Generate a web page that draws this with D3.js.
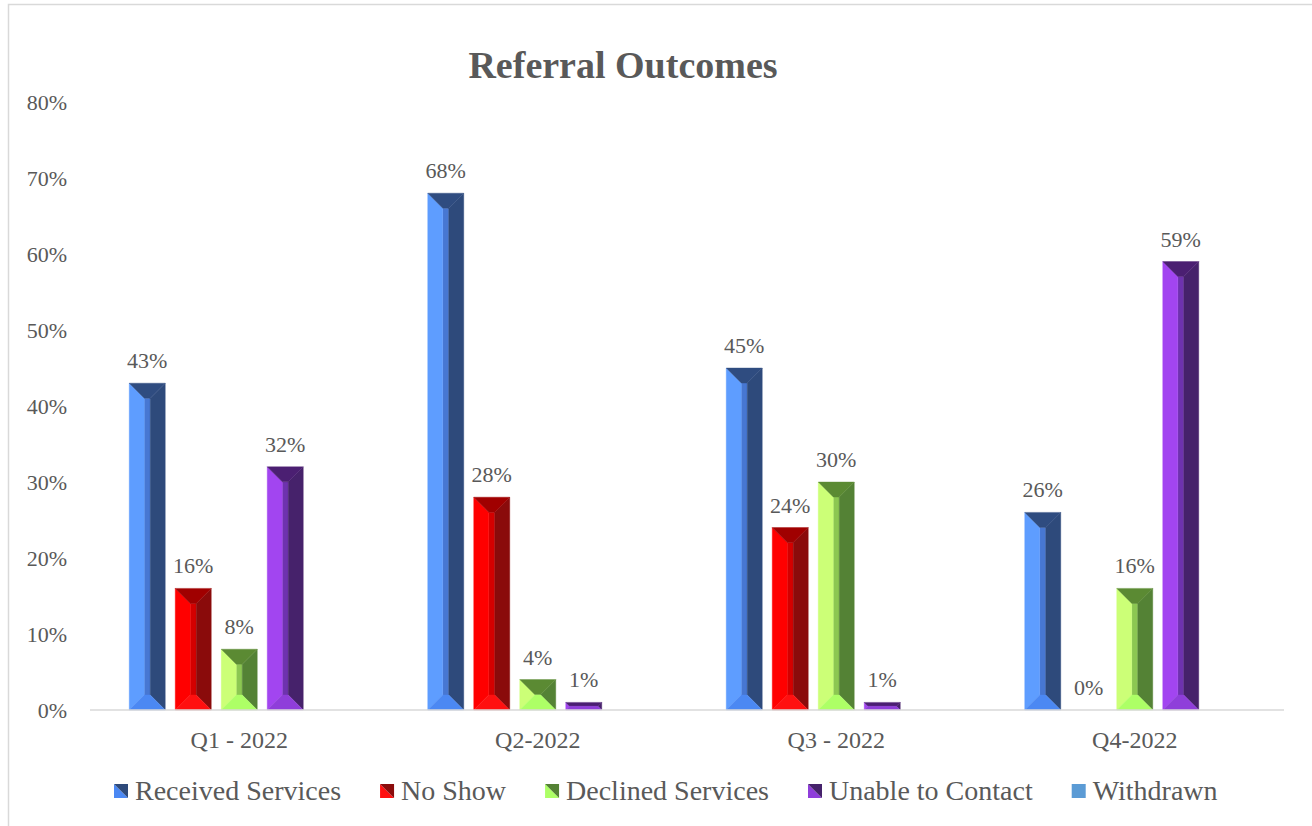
<!DOCTYPE html>
<html>
<head>
<meta charset="utf-8">
<script src="https://cdn.jsdelivr.net/npm/d3@7"></script>
<style>
  html, body { margin: 0; padding: 0; background: #fff; }
  svg { display: block; }
  text { font-family: "Liberation Serif", "Times New Roman", serif; fill: #595959; }
</style>
</head>
<body>
<svg id="chart" width="1312" height="826"></svg>
<script>
// Quarterly referral outcome shares (percent)
const quarters = ["Q1 - 2022", "Q2-2022", "Q3 - 2022", "Q4-2022"];
const seriesNames = ["Received Services", "No Show", "Declined Services", "Unable to Contact", "Withdrawn"];
const receivedServices = [43, 68, 45, 26];
const noShow = [16, 28, 24, 0];
const declinedServices = [8, 4, 30, 16];
const unableToContact = [32, 1, 1, 59];
const withdrawn = [null, null, null, null];
const yTicks = [0, 10, 20, 30, 40, 50, 60, 70, 80];

const seriesValues = [receivedServices, noShow, declinedServices, unableToContact, withdrawn];

// Bevelled face colours per series: left, centre, right, top, bottom
const palettes = [
  { left: "#5E9DFF", center: "#4777D2", right: "#2E4A7B", top: "#2F4C80", bottom: "#4B88F3" },
  { left: "#FF0000", center: "#D40000", right: "#8A0B0B", top: "#A00000", bottom: "#FF1010" },
  { left: "#CCFF77", center: "#8CC752", right: "#548235", top: "#5B8A33", bottom: "#ADFF66" },
  { left: "#A245F0", center: "#6E32AE", right: "#46226B", top: "#4B1F72", bottom: "#8F3EDA" },
  { left: "#5B9BD5", center: "#5B9BD5", right: "#5B9BD5", top: "#5B9BD5", bottom: "#5B9BD5" }
];

const svg = d3.select("#chart");

// Chart area frame
svg.append("rect")
  .attr("x", 8.5).attr("y", 4.5)
  .attr("width", 1330).attr("height", 840)
  .attr("fill", "#fff")
  .attr("stroke", "#D9D9D9").attr("stroke-width", 1.5);

// Title
svg.append("text")
  .attr("x", 623).attr("y", 78)
  .attr("text-anchor", "middle")
  .style("font-size", "38px").style("font-weight", "bold")
  .text("Referral Outcomes");

const plotLeft = 90, plotRight = 1284, plotTop = 102, plotBottom = 710;

const y = d3.scaleLinear().domain([0, 80]).range([plotBottom, plotTop]);
const x0 = d3.scaleBand().domain(quarters).range([plotLeft, plotRight]).padding(0);
const x1 = d3.scaleBand().domain(seriesNames).range([0, x0.bandwidth()])
  .paddingInner(10 / 46).paddingOuter(0.853);

// Y axis labels
const yAxis = d3.axisLeft(y).tickValues(yTicks).tickFormat(d => d + "%").tickSize(0).tickPadding(0);
const yG = svg.append("g").attr("transform", `translate(67,0)`).call(yAxis);
yG.attr("font-family", null);
yG.select(".domain").remove();
yG.selectAll("text")
  .style("font-size", "22px")
  .style("font-family", "'Liberation Serif', serif")
  .attr("fill", "#595959")
  .attr("dy", "0.35em");

// Bars
function bevelFaces(x0p, x1p, y0p, y1p) {
  const w = x1p - x0p, h = y1p - y0p;
  const b = Math.min(15, w / 2 - 3, h / 2);
  return {
    center: [[x0p + b, y0p + b], [x1p - b, y0p + b], [x1p - b, y1p - b], [x0p + b, y1p - b]],
    left:   [[x0p, y0p], [x0p + b, y0p + b], [x0p + b, y1p - b], [x0p, y1p]],
    right:  [[x1p, y0p], [x1p - b, y0p + b], [x1p - b, y1p - b], [x1p, y1p]],
    top:    [[x0p, y0p], [x1p, y0p], [x1p - b, y0p + b], [x0p + b, y0p + b]],
    bottom: [[x0p, y1p], [x1p, y1p], [x1p - b, y1p - b], [x0p + b, y1p - b]]
  };
}

const groups = svg.append("g").selectAll("g")
  .data(quarters)
  .join("g")
  .attr("transform", d => `translate(${x0(d)},0)`);

groups.each(function (q, qi) {
  const g = d3.select(this);
  seriesNames.forEach((s, si) => {
    const v = seriesValues[si][qi];
    if (v === null || v === undefined) return;
    const bx = x1(s), bw = x1.bandwidth();
    const top = y(v), bottom = y(0);
    if (bottom - top > 0.5) {
      const faces = bevelFaces(bx, bx + bw, top, bottom);
      const pal = palettes[si];
      ["center", "left", "right", "top", "bottom"].forEach(f => {
        g.append("polygon")
          .attr("points", faces[f].map(p => p.join(",")).join(" "))
          .attr("fill", pal[f])
          .attr("stroke", pal[f]).attr("stroke-width", 0.4);
      });
    }
    g.append("text")
      .attr("x", bx + bw / 2)
      .attr("y", top - 15)
      .attr("text-anchor", "middle")
      .style("font-size", "22px")
      .text(v + "%");
  });
});

// X axis line and category labels
const xAxis = d3.axisBottom(x0).tickSize(0).tickPadding(0);
const xG = svg.append("g").attr("transform", `translate(0,${plotBottom})`).call(xAxis);
xG.attr("font-family", null);
xG.select(".domain").attr("stroke", "#D9D9D9").attr("stroke-width", 1.5).attr("d", `M${plotLeft},0H${plotRight}`);
xG.selectAll("text")
  .style("font-size", "24px")
  .style("font-family", "'Liberation Serif', serif")
  .attr("fill", "#595959")
  .attr("dy", null)
  .attr("y", 38);

// Legend
const legend = svg.append("g").attr("transform", "translate(114,791)");
let cursor = 0;
seriesNames.forEach((s, si) => {
  const item = legend.append("g").attr("transform", `translate(${cursor},0)`);
  const pal = palettes[si];
  const sz = 14;
  if (si < 4) {
    item.append("polygon").attr("points", `0,${-sz / 2} 0,${sz / 2} ${sz},${sz / 2}`).attr("fill", pal.bottom);
    item.append("polygon").attr("points", `0,${-sz / 2} ${sz},${-sz / 2} ${sz},${sz / 2}`).attr("fill", pal.right);
  } else {
    item.append("rect").attr("x", 0).attr("y", -sz / 2).attr("width", sz).attr("height", sz).attr("fill", pal.left);
  }
  const t = item.append("text")
    .attr("x", sz + 7).attr("y", 9)
    .style("font-size", "28px")
    .text(s);
  cursor += sz + 7 + t.node().getComputedTextLength() + 39;
});
</script>
</body>
</html>
